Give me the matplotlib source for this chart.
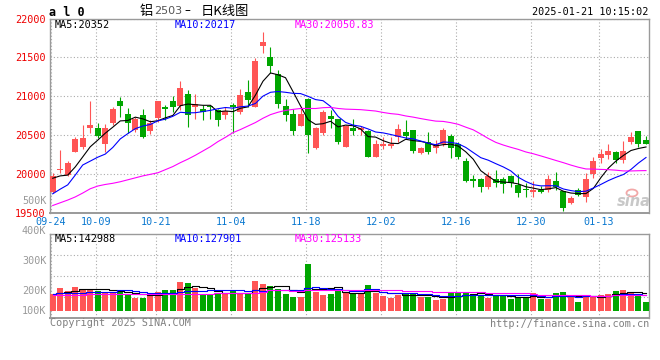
import numpy as np
import pandas as pd
import matplotlib
matplotlib.use('Agg')
import matplotlib.pyplot as plt
from matplotlib.patches import Ellipse

plt.rcParams['font.family'] = ['DejaVu Sans Mono']

# trading days of al2503 (SHFE holidays removed)
holidays = ['2024-10-01', '2024-10-02', '2024-10-03', '2024-10-04', '2024-10-07', '2025-01-01']
days = pd.bdate_range('2024-09-24', '2025-01-21')
days = days[~days.isin(pd.to_datetime(holidays))]
dates = days.strftime('%m-%d').tolist()
tick_labels = ['09-24', '10-09', '10-21', '11-04', '11-18', '12-02', '12-16', '12-30', '01-13']

opens = [19775, 20060, 19990, 20285, 20355, 20595, 20600, 20385, 20660, 20940,
         20780, 20570, 20760, 20560, 20720, 20865, 20940, 20875, 21030, 20865,
         20835, 20875, 20825, 20760, 20890, 20805, 21060, 20865, 21650, 21510,
         21285, 20875, 20770, 20625, 20965, 20335, 20535, 20745, 20710, 20355,
         20600, 20570, 20555, 20225, 20365, 20370, 20480, 20545, 20570, 20275,
         20420, 20335, 20390, 20490, 20395, 20175, 19940, 19935, 19835, 19935,
         19940, 19980, 19865, 19805, 19770, 19800, 19800, 19920, 19780, 19630,
         19800, 19705, 20005, 20215, 20250, 20290, 20185, 20420, 20555, 20440]
highs = [20020, 20310, 20175, 20485, 20630, 20945, 20655, 20640, 20860, 20995,
         20850, 20730, 20835, 20695, 20940, 20890, 21005, 21195, 21080, 21025,
         20890, 20890, 20835, 20860, 20910, 21090, 21210, 21495, 21830, 21630,
         21335, 20965, 20835, 20860, 20985, 20610, 20825, 20825, 20715, 20630,
         20710, 20620, 20570, 20440, 20475, 20475, 20645, 20695, 20575, 20355,
         20540, 20440, 20590, 20515, 20420, 20205, 19990, 19950, 20035, 20055,
         19970, 19990, 20000, 19895, 19920, 19850, 19990, 20025, 19780, 19720,
         19820, 20015, 20220, 20325, 20385, 20300, 20425, 20545, 20555, 20490]
lows = [19755, 20020, 19985, 20285, 20325, 20535, 20460, 20290, 20630, 20730,
        20535, 20540, 20470, 20515, 20670, 20695, 20805, 20825, 20610, 20705,
        20695, 20705, 20625, 20705, 20535, 20770, 20860, 20860, 21560, 21295,
        20845, 20690, 20505, 20625, 20275, 20320, 20505, 20600, 20395, 20355,
        20505, 20505, 20220, 20220, 20320, 20335, 20420, 20450, 20275, 20260,
        20260, 20280, 20365, 20215, 20195, 19905, 19840, 19770, 19810, 19840,
        19755, 19835, 19705, 19705, 19705, 19755, 19770, 19800, 19530, 19620,
        19725, 19650, 19955, 20150, 20195, 20140, 20140, 20395, 20355, 20395]
closes = [19980, 20065, 20150, 20455, 20470, 20630, 20490, 20595, 20840, 20875,
          20655, 20705, 20485, 20655, 20940, 20840, 20860, 21110, 20760, 20900,
          20800, 20860, 20695, 20810, 20860, 21015, 20950, 21450, 21700, 21390,
          20900, 20760, 20560, 20780, 20505, 20600, 20805, 20715, 20420, 20620,
          20560, 20600, 20220, 20390, 20390, 20395, 20580, 20495, 20305, 20340,
          20290, 20395, 20575, 20335, 20220, 19920, 19920, 19840, 19980, 19895,
          19870, 19885, 19755, 19800, 19805, 19770, 19940, 19835, 19565, 19690,
          19735, 19940, 20170, 20260, 20300, 20185, 20300, 20485, 20390, 20395]
volumes = [141, 191, 166, 199, 183, 174, 166, 158, 158, 166,
           141, 108, 108, 133, 158, 174, 174, 241, 232, 191,
           133, 133, 149, 141, 174, 141, 141, 249, 224, 208,
           183, 141, 116, 116, 390, 158, 133, 141, 174, 158,
           141, 141, 216, 149, 125, 108, 133, 141, 141, 116,
           116, 91, 100, 158, 149, 158, 141, 133, 108, 125,
           125, 100, 108, 116, 149, 100, 100, 149, 158, 116,
           75, 116, 125, 133, 141, 166, 174, 158, 141, 75]  # thousand lots

# moving averages before the window is full (uses data before 09-24)
ma5_head = [19950, 19980, 19990, 20095]
ma10_head = [19750, 19810, 19865, 19990, 20120, 20170, 20220, 20260, 20345]
ma30_head = [19600, 19635, 19670, 19710, 19760, 19815, 19850, 19870, 19885, 19905,
             19930, 19955, 19980, 20000, 20020, 20060, 20100, 20150, 20195, 20245,
             20300, 20355, 20420, 20475, 20535, 20575, 20620, 20665, 20720]
vma5_head = [140, 148, 155, 162]
vma10_head = [141, 143, 145, 148, 150, 152, 154, 156, 158]
vma30_head = [133, 133, 134, 134, 134, 135, 135, 135, 135, 136,
              136, 136, 136, 136, 137, 137, 138, 138, 139, 140,
              141, 142, 143, 144, 145, 147, 149, 151, 154]

ma_text = ['MA5:20352', 'MA10:20217', 'MA30:20050.83']
vma_text = ['MA5:142988', 'MA10:127901', 'MA30:125133']
vol_labels = ['500K', '400K', '300K', '200K', '100K']

RED = '#ff5555'
GREEN = '#00a600'
MA_COLORS = ['black', '#0000ff', '#ff00ff']
GRID = '#aaaaaa'
BORDER = '#9a9a9a'


def ma(values, n, head):
    s = pd.Series(values, dtype=float).rolling(n).mean()
    s.iloc[:n - 1] = head
    return s.values


W, H = 660, 360


def box(l, t, r, b):
    return [l / W, 1 - b / H, (r - l) / W, (b - t) / H]


def ftext(px, py, s, **kw):
    fig.text(px / W, 1 - py / H, s, **kw)


o = np.array(opens); c = np.array(closes)
hi = np.array(highs); lo = np.array(lows)
v = np.array(volumes) * 1000.0
x = np.arange(len(c))
col = np.where(c >= o, RED, GREEN)
grid_x = [dates.index(t) - 0.27 for t in tick_labels]

fig = plt.figure(figsize=(6.6, 3.6), dpi=100)
ax = fig.add_axes(box(50, 18.5, 649, 213.3))
axv = fig.add_axes(box(50, 234.3, 649, 318), sharex=ax)

# price candles
ax.vlines(x, lo, hi, colors=col, lw=0.8, zorder=3)
body = np.maximum(np.abs(c - o), 10)
ax.bar(x, body, bottom=np.minimum(o, c), width=0.8, color=col, linewidth=0, zorder=3)
for n, head, mc in zip([5, 10, 30], [ma5_head, ma10_head, ma30_head], MA_COLORS):
    ax.plot(x, ma(closes, n, head), color=mc, lw=0.8, zorder=4)

ax.set_ylim(19500, 22000)
ax.set_xlim(-0.36, 79.4)
ax.set_yticks([19500, 20000, 20500, 21000, 21500, 22000])
ax.set_yticklabels(['19500', '20000', '20500', '21000', '21500', '22000'])
ax.set_xticks(grid_x)
ax.set_xticklabels(tick_labels)
ax.tick_params(axis='y', length=0, pad=3, labelcolor='#ee0000', labelsize=7.3)
ax.tick_params(axis='x', length=0, pad=3, labelcolor='#0a78d0', labelsize=7.3)
ax.grid(True, ls=(0, (1, 2)), color=GRID, lw=0.8)

# volume
axv.bar(x, v, width=0.8, color=col, linewidth=0, zorder=3)
for n, head, mc in zip([5, 10, 30], [vma5_head, vma10_head, vma30_head], MA_COLORS):
    axv.plot(x, ma(v, n, np.array(head) * 1000.0), color=mc, lw=0.8,
             drawstyle='steps-mid', zorder=4)
axv.set_ylim(-60600, 634000)
vlo, vhi = axv.get_ylim()
axv.set_yticks([vlo + f * (vhi - vlo) for f in (0.25, 0.5, 0.75)])
axv.tick_params(axis='both', length=0, labelleft=False, labelbottom=False)
axv.grid(True, ls=(0, (1, 2)), color=GRID, lw=0.8)

for a in (ax, axv):
    a.set_axisbelow(True)
    for s in a.spines.values():
        s.set_color(BORDER)
        s.set_linewidth(1)
    a.spines['bottom'].set_linewidth(1.4)

# header
ftext(49, 12, 'a l 0', fontsize=8.5, fontweight='bold', va='center')
ftext(140, 11, '铝', family=['Noto Sans CJK SC', 'DejaVu Sans'], fontsize=9.5, va='center')
ftext(154, 11, '2503', family=['DejaVu Sans'], fontsize=8, color='#555555', va='center')
ftext(184, 11, '–', family=['DejaVu Sans'], fontsize=8.5, va='center')
ftext(201, 11, '日K线图', family=['Noto Sans CJK SC', 'DejaVu Sans'], fontsize=9.5, va='center')
ftext(648, 12, '2025-01-21 10:15:02', fontsize=7.3, ha='right', va='center')

for px, s, mc in zip([55, 175, 295], ma_text, MA_COLORS):
    ftext(px, 24.5, s, fontsize=7.3, color=mc, va='center')
for px, s, mc in zip([55, 175, 295], vma_text, MA_COLORS):
    ftext(px, 239, s, fontsize=7.3, color=mc, va='center')
for py, s in zip([201, 231, 261, 291, 311], vol_labels):
    ftext(46.5, py, s, fontsize=7.3, color='#999999', ha='right', va='center')

ftext(50, 323.5, 'Copyright 2025 SINA.COM', fontsize=7.3, color='#808080', va='center')
ftext(649, 324, 'http://finance.sina.com.cn', fontsize=7.3, color='#808080', ha='right', va='center')

# sina watermark
ftext(634, 202, 'sina', family=['DejaVu Sans'], fontsize=10.5, fontweight='bold', style='italic',
      color='#c8c8c8', ha='center', va='center')
fig.add_artist(Ellipse((632 / W, 1 - 193 / H), 11 / W, 7 / H, transform=fig.transFigure,
                       fill=False, edgecolor='#f2a8a8', lw=1.3))

fig.savefig('out.png', dpi=100)
